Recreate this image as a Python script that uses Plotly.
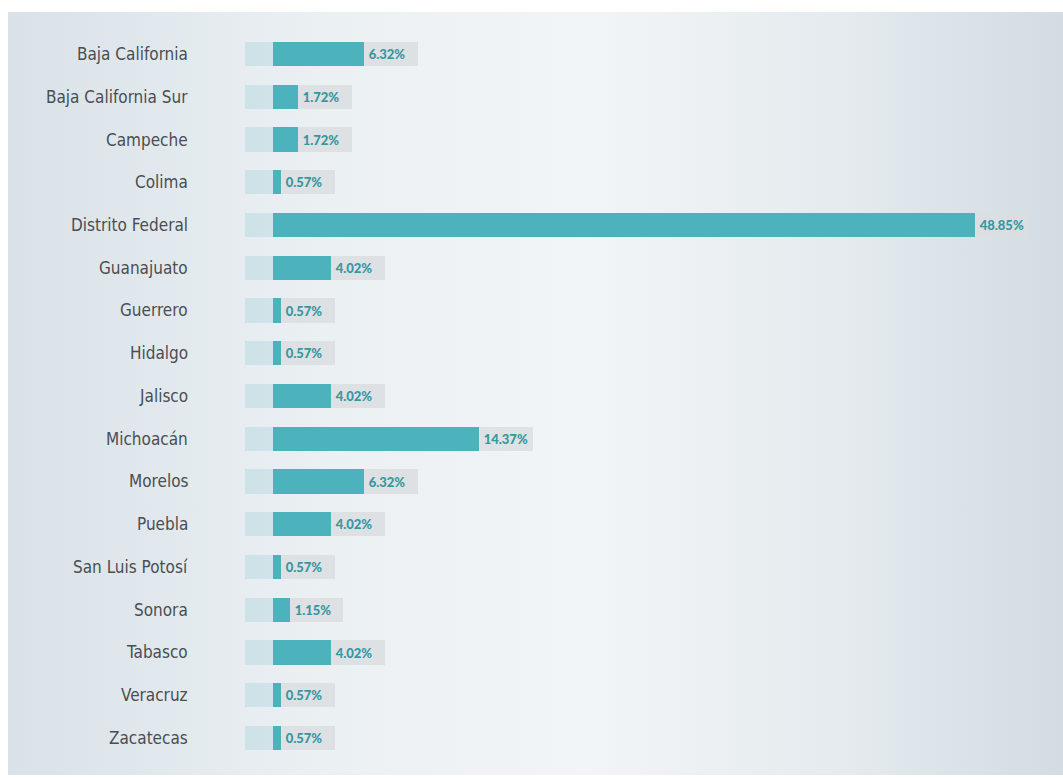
import plotly.graph_objects as go

states = ["Baja California", "Baja California Sur", "Campeche", "Colima", "Distrito Federal",
          "Guanajuato", "Guerrero", "Hidalgo", "Jalisco", "Michoacán", "Morelos", "Puebla",
          "San Luis Potosí", "Sonora", "Tabasco", "Veracruz", "Zacatecas"]
shares = [6.32, 1.72, 1.72, 0.57, 48.85, 4.02, 0.57, 0.57, 4.02, 14.37, 6.32, 4.02,
          0.57, 1.15, 4.02, 0.57, 0.57]
labels = [f"\u2009{v:.2f}%" for v in shares]

XMIN, XMAX = -18.44, 54.98
YTOP, YBOT = -0.9825, 16.866
FADE = 1.95
BOX = 3.75
BAR_W = 0.57

fig = go.Figure()

# panel background with horizontal gradient (base subplot, drawn below the bars)
fig.add_trace(go.Scatter(
    x=[0, 1, 1, 0, 0], y=[0, 0, 1, 1, 0], xaxis="x", yaxis="y",
    mode="lines", line=dict(width=0), fill="toself",
    fillgradient=dict(type="horizontal",
                      colorscale=[[0, "#d9e2e8"], [0.3, "#ebf0f3"], [0.55, "#f2f5f7"],
                                  [0.8, "#e4eaee"], [1, "#d2dce2"]]),
    hoverinfo="skip", showlegend=False))

# faded lead-in segment
fig.add_trace(go.Bar(
    y=states, x=[FADE] * len(states), base=[-FADE] * len(states), orientation="h",
    xaxis="x2", yaxis="y2",
    width=BAR_W, marker=dict(color="rgba(120,190,202,0.22)", line=dict(width=0)),
    hoverinfo="skip", showlegend=False))

# main bars
fig.add_trace(go.Bar(
    y=states, x=shares, base=0, orientation="h", width=BAR_W,
    xaxis="x2", yaxis="y2",
    marker=dict(color="#4cb2bb", line=dict(width=0)),
    showlegend=False, name="Share"))

# label boxes
fig.add_trace(go.Bar(
    y=states, x=[BOX] * len(states), base=shares, orientation="h", width=BAR_W,
    xaxis="x2", yaxis="y2",
    marker=dict(color="rgba(218,222,225,0.85)", line=dict(width=0)),
    text=labels, textposition="inside", insidetextanchor="start",
    insidetextfont=dict(family="Lato", size=13, color="#3597a0", weight=900),
    constraintext="none", cliponaxis=False,
    hoverinfo="skip", showlegend=False))

annotations = [dict(x=-5.78, y=s, xref="x2", yref="y2", text=s, showarrow=False,
                    xanchor="right", yanchor="middle",
                    font=dict(family="DejaVu Sans Condensed, sans-serif",
                              size=17, color="#4a4e52"))
               for s in states]

fig.update_layout(
    width=1063, height=779,
    margin=dict(l=8, r=0, t=12, b=4),
    paper_bgcolor="white", plot_bgcolor="white",
    barmode="overlay", bargap=0,
    xaxis=dict(range=[0, 1], visible=False, fixedrange=True),
    yaxis=dict(range=[0, 1], visible=False, fixedrange=True),
    xaxis2=dict(range=[XMIN, XMAX], visible=False, fixedrange=True, overlaying="x"),
    yaxis2=dict(type="category", categoryorder="array", categoryarray=states,
                range=[YBOT, YTOP], visible=False, fixedrange=True, overlaying="y"),
    annotations=annotations,
)

fig.write_html("out.html")
